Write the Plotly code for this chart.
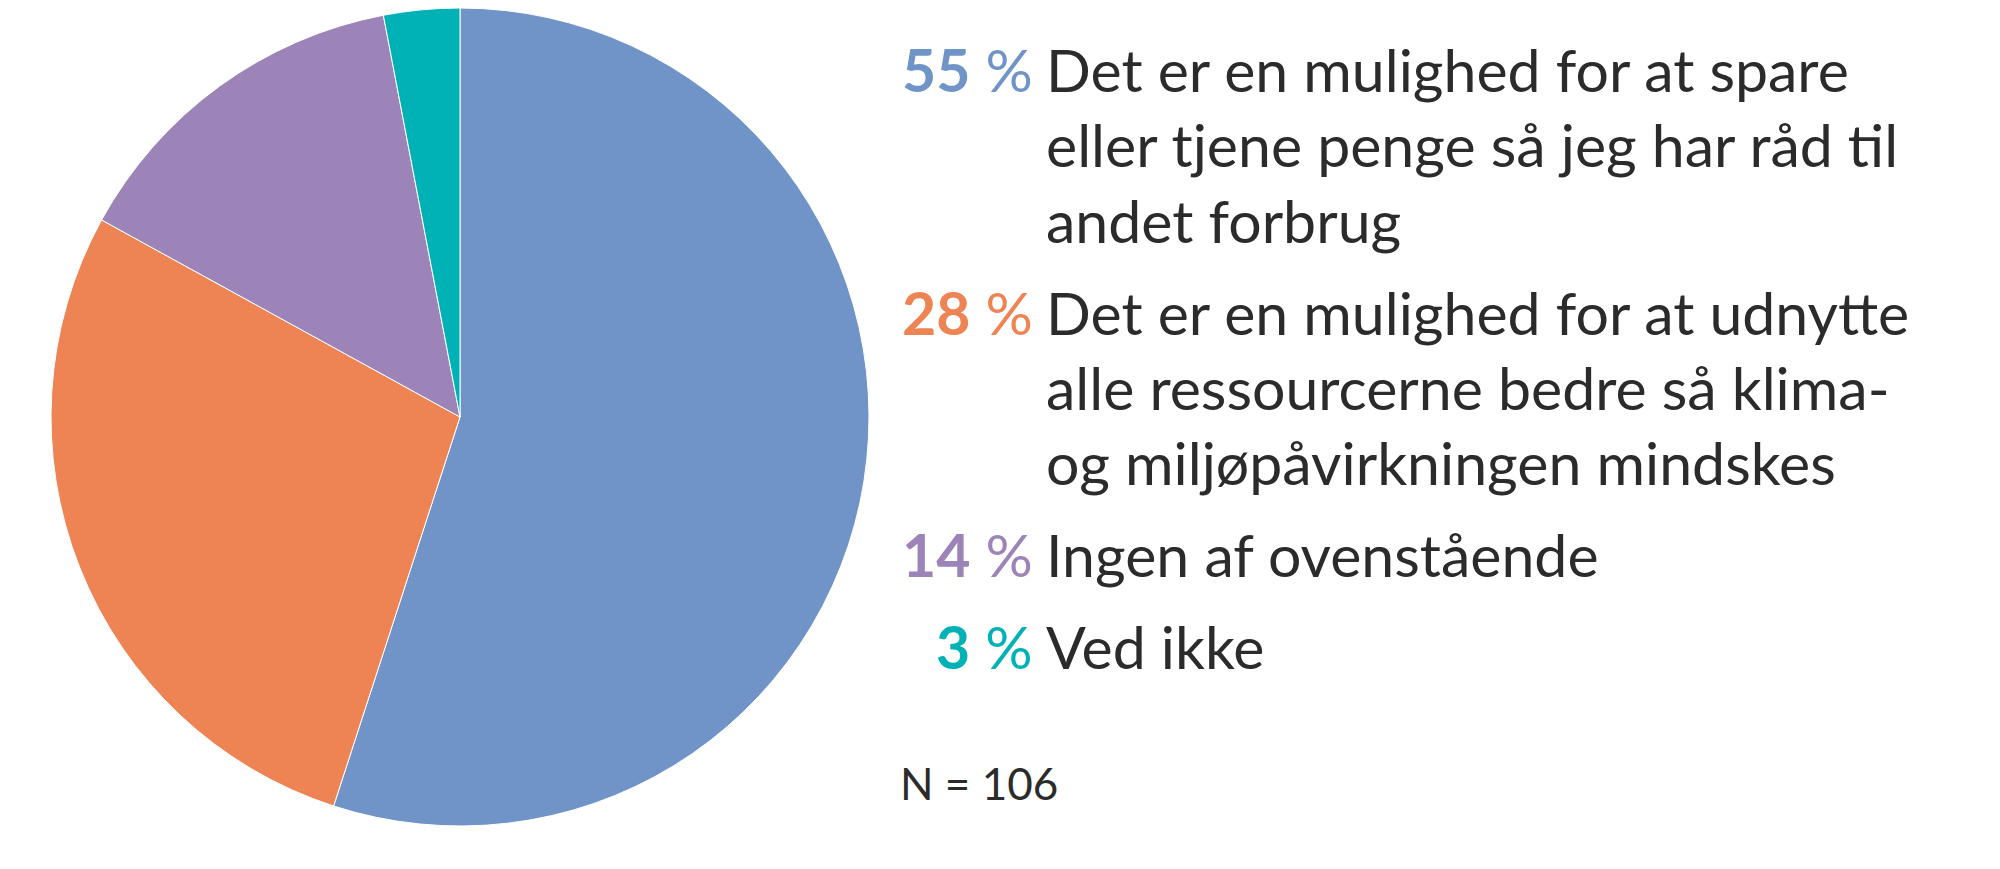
import plotly.graph_objects as go

# data
shares = [55, 28, 14, 3]
answers = [
    ["Det er en mulighed for at spare", "eller tjene penge så jeg har råd til", "andet forbrug"],
    ["Det er en mulighed for at udnytte", "alle ressourcerne bedre så klima-", "og miljøpåvirkningen mindskes"],
    ["Ingen af ovenstående"],
    ["Ved ikke"],
]
n_respondents = 106

colors = ["#7094C7", "#EE8354", "#9C84B9", "#00B2B5"]
text_color = "#2b2b2b"

W, H = 2000, 869
FONT = "Lato"
FS = 59
LINE_STEP = 75          # px between text lines
BLOCK_GAP = 17          # extra px between answers
first_line_px = 62      # anchor of the very first text line
pct_right_px = 1027
text_left_px = 1036


def py(px):
    return 1 - px / H


fig = go.Figure(go.Pie(
    labels=[" ".join(a) for a in answers],
    values=shares,
    sort=False,
    direction="clockwise",
    rotation=0,
    marker=dict(colors=colors, line=dict(color="white", width=1)),
    textinfo="none",
    hoverinfo="label+percent",
    domain=dict(x=[40 / W, 864 / W], y=[1 - 818 / H, 1]),
    showlegend=False,
))

annotations = []
y = first_line_px
for share, lines, col in zip(shares, answers, colors):
    annotations.append(dict(
        x=pct_right_px / W, y=py(y), xref="paper", yref="paper",
        xanchor="right", yanchor="middle", showarrow=False,
        text=f"<b>{share}</b> %",
        font=dict(family=FONT, size=FS, color=col),
    ))
    for line in lines:
        annotations.append(dict(
            x=text_left_px / W, y=py(y), xref="paper", yref="paper",
            xanchor="left", yanchor="middle", showarrow=False,
            text=line,
            font=dict(family=FONT, size=FS, color=text_color),
        ))
        y += LINE_STEP
    y += BLOCK_GAP

annotations.append(dict(
    x=890 / W, y=py(775), xref="paper", yref="paper",
    xanchor="left", yanchor="middle", showarrow=False,
    text=f"N = {n_respondents}",
    font=dict(family=FONT, size=44, color=text_color),
))

fig.update_layout(
    width=W, height=H,
    margin=dict(l=0, r=0, t=0, b=0),
    paper_bgcolor="white",
    plot_bgcolor="white",
    annotations=annotations,
)

fig.write_html("out.html")
